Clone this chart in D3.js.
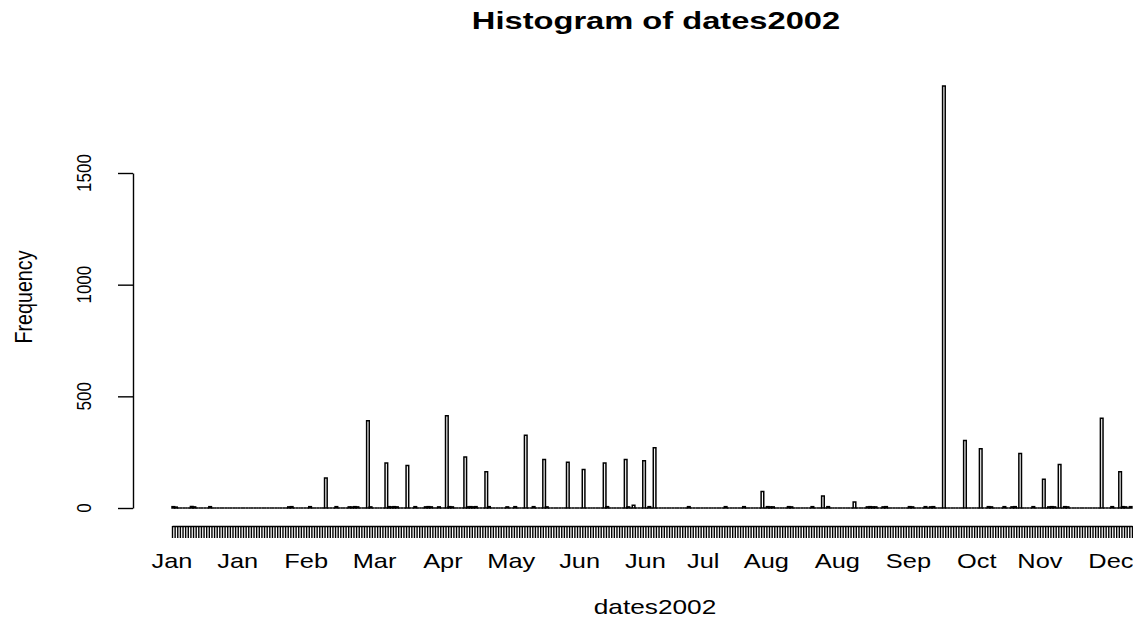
<!DOCTYPE html>
<html>
<head>
<meta charset="utf-8">
<script src="https://cdn.jsdelivr.net/npm/d3@7"></script>
<style>
  html, body { margin: 0; padding: 0; background: #fff; }
  svg { display: block; }
  text { font-family: "Liberation Sans", Arial, sans-serif; fill: #000; }
</style>
</head>
<body>
<svg id="chart" width="1133" height="619"></svg>
<script>
// ---- data (daily bins of 2002, day index 0 = Jan 1) ----
const nDays = 365;
const binDays = [0, 1, 7, 8, 14, 44, 45, 52, 58, 62, 67, 68, 69, 70, 74, 75, 81, 82, 83, 84, 85, 89, 92, 96, 97, 98, 101,
  104, 105, 106, 111, 112, 113, 114, 115, 119, 120, 127, 130, 134, 137, 141, 142, 150, 156, 164, 165, 172, 173, 175,
  179, 181, 183, 196, 210, 217, 224, 226, 227, 228, 234, 235, 243, 247, 249, 259, 264, 265, 266, 267, 270, 271,
  280, 281, 286, 288, 289, 293, 301, 307, 310, 311, 316, 319, 320, 322, 327, 331, 333, 334, 335, 337, 339, 340,
  353, 357, 360, 361, 362, 364];
const binCounts = [6, 4, 7, 5, 6, 5, 6, 6, 134, 6, 5, 4, 6, 5, 391, 5, 201, 6, 5, 6, 5, 190, 6, 5, 6, 5, 5,
  413, 6, 5, 228, 5, 6, 5, 6, 162, 6, 5, 6, 326, 6, 217, 5, 205, 172, 201, 6, 217, 5, 12,
  212, 6, 270, 6, 6, 6, 74, 6, 5, 5, 6, 5, 6, 54, 6, 27, 5, 6, 5, 5, 5, 6,
  6, 5, 6, 5, 6, 1889, 302, 265, 6, 5, 6, 5, 6, 244, 6, 129, 5, 6, 5, 195, 6, 5,
  402, 6, 162, 6, 5, 6];
const xTickDays   = [0, 25, 51, 77, 103, 129, 155, 180, 202, 226, 253, 280, 306, 330, 357];
const xTickLabels = ["Jan", "Jan", "Feb", "Mar", "Apr", "May", "Jun", "Jun", "Jul", "Aug", "Aug", "Sep", "Oct", "Nov", "Dec"];
const yTicks = [0, 500, 1000, 1500];
const titleText = "Histogram of dates2002";
const xLabel = "dates2002";
const yLabel = "Frequency";

// ---- build ----
const countByDay = new Map(binDays.map((d, i) => [d, binCounts[i]]));
const bins = d3.range(nDays).map(d => ({ day: d, count: countByDay.get(d) || 0 }));

const svg = d3.select("#chart");
const x = d3.scaleLinear().domain([0, nDays]).range([172, 172 + nDays * 2.63]);
const y = d3.scaleLinear().domain([0, 1500]).range([508, 173]);

// bars (paths so that zero-height bins still draw a line, like R)
svg.append("g").selectAll("path").data(bins).join("path")
  .attr("d", b => {
    const x0 = x(b.day), x1 = x(b.day + 1), y0 = y(0), y1 = y(b.count);
    return `M${x0},${y0}V${y1}H${x1}V${y0}Z`;
  })
  .attr("fill", "none")
  .attr("stroke", "#000")
  .attr("stroke-width", 1.5);

// x axis: a tick at every daily break
const xAxis = d3.axisBottom(x)
  .tickValues(d3.range(nDays + 1))
  .tickSize(12)
  .tickSizeOuter(0)
  .tickFormat("");
const gx = svg.append("g").attr("transform", "translate(0,526)").call(xAxis);
gx.selectAll("line").attr("stroke", "#000").attr("stroke-width", 1.4);
gx.select("path.domain").attr("stroke", "#000").attr("stroke-width", 1.4);

svg.append("g").selectAll("text").data(xTickDays).join("text")
  .attr("text-anchor", "middle")
  .attr("font-size", 21)
  .attr("transform", (d) => `translate(${x(d)},568) scale(1.21,1)`)
  .text((d, i) => xTickLabels[i]);

// y axis
const yAxis = d3.axisLeft(y).tickValues(yTicks).tickSize(15).tickSizeOuter(0).tickFormat("");
const gy = svg.append("g").attr("transform", "translate(133,0)").call(yAxis);
gy.selectAll("line, path").attr("stroke", "#000").attr("stroke-width", 1.4);

svg.append("g").selectAll("text").data(yTicks).join("text")
  .attr("text-anchor", "middle")
  .attr("font-size", 17)
  .attr("transform", d => `translate(91,${y(d)}) scale(1.2,1) rotate(-90)`)
  .text(d => d);

// titles
svg.append("text")
  .attr("text-anchor", "middle")
  .attr("font-size", 23)
  .attr("font-weight", "bold")
  .attr("transform", "translate(656,29) scale(1.42,1)")
  .text(titleText);

svg.append("text")
  .attr("text-anchor", "middle")
  .attr("font-size", 21)
  .attr("transform", "translate(655,614) scale(1.25,1)")
  .text(xLabel);

svg.append("text")
  .attr("text-anchor", "middle")
  .attr("font-size", 19.7)
  .attr("transform", "translate(32,297) scale(1.17,1) rotate(-90)")
  .text(yLabel);
</script>
</body>
</html>
